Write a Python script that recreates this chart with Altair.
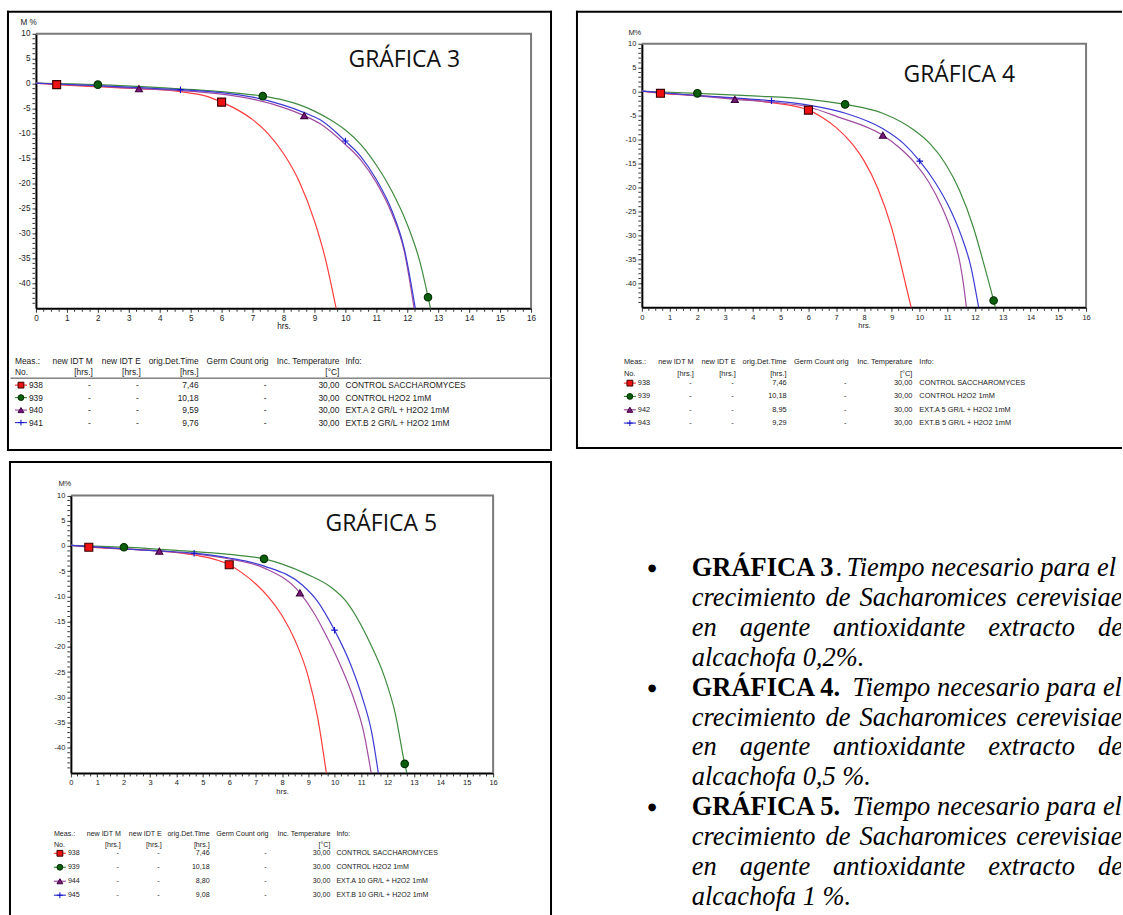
import altair as alt
import pandas as pd

# ------------------------------------------------------------------ data
KINDS = ["ctrl", "h2o2", "extA", "extB"]

# GRAFICA 3
G3_938_X = [0, 0.67, 2, 3.33, 4.67, 5.5, 6, 6.5, 7, 7.5, 8, 8.5, 9, 9.35, 9.7]
G3_938_Y = [0.1, -0.2, -0.6, -1.0, -1.6, -2.5, -3.7, -5.2, -7.2, -10.0, -14.0, -19.5, -27.5, -35.0, -45]
G3_939_X = [0, 2, 4, 6, 7.33, 8, 8.5, 9, 9.5, 10, 10.5, 11, 11.5, 12, 12.4, 12.75]
G3_939_Y = [0.1, -0.2, -0.8, -1.6, -2.5, -3.3, -4.2, -5.5, -7.2, -9.3, -12.2, -16.3, -21.5, -28.2, -35.5, -45]
G3_940_X = [0, 2, 3.33, 4.67, 6, 7, 8, 8.67, 9.2, 10, 10.5, 11, 11.5, 11.9, 12.22]
G3_940_Y = [0.1, -0.5, -1.0, -1.4, -2.1, -3.1, -4.8, -6.4, -8.1, -12.2, -15.3, -19.8, -26.0, -33.5, -45]
G3_941_X = [0, 2, 3.33, 4.67, 6, 7, 8, 8.67, 9.2, 10, 10.5, 11, 11.5, 11.9, 12.26]
G3_941_Y = [0.1, -0.4, -0.8, -1.2, -1.8, -2.7, -4.3, -5.8, -7.3, -11.5, -14.6, -19.2, -25.4, -33.0, -45]
G3_MK_KIND = ["ctrl", "ctrl", "h2o2", "h2o2", "h2o2", "extA", "extA", "extB", "extB"]
G3_MK_X = [0.67, 6.0, 2.0, 7.33, 12.67, 3.33, 8.67, 4.67, 10.0]
G3_MK_Y = [-0.2, -3.7, -0.2, -2.5, -42.8, -1.0, -6.4, -1.2, -11.5]
G3_MEAS = ["938", "939", "940", "941"]
G3_DET = ["7,46", "10,18", "9,59", "9,76"]
G3_INFO = ["CONTROL SACCHAROMYCES", "CONTROL H2O2 1mM",
           "EXT.A 2 GR/L +  H2O2 1mM", "EXT.B 2 GR/L +  H2O2 1mM"]

# GRAFICA 4
G4_938_X = [0, 0.67, 2, 3.33, 4.67, 6, 6.5, 7, 7.5, 8, 8.5, 9, 9.35, 9.7]
G4_938_Y = [0.1, -0.35, -0.8, -1.4, -2.3, -3.85, -5.4, -7.5, -10.4, -14.4, -20.2, -28.5, -36.5, -45]
G4_939_X = [0, 2, 4, 6, 7.32, 8.67, 9.8, 10.37, 10.93, 11.44, 11.94, 12.32, 12.67, 12.73]
G4_939_Y = [0.1, -0.35, -0.9, -1.6, -2.66, -4.5, -8.0, -10.8, -15.0, -20.6, -28.3, -36.0, -43.6, -45]
G4_942_X = [0, 2, 3.35, 4.67, 6, 7.03, 8.68, 9.3, 9.85, 10.35, 10.8, 11.2, 11.45, 11.58, 11.69]
G4_942_Y = [0.1, -0.9, -1.6, -2.2, -3.2, -5.2, -9.1, -11.8, -15.0, -19.0, -24.0, -30.0, -35.5, -40.0, -45]
G4_943_X = [0, 2, 3.33, 4.67, 6, 7.33, 8.67, 9.42, 10.01, 10.55, 11.1, 11.5, 11.85, 12.13]
G4_943_Y = [0.1, -0.8, -1.3, -1.9, -2.8, -4.5, -7.7, -10.8, -14.5, -18.8, -24.5, -30.0, -36.5, -45]
G4_MK_KIND = ["ctrl", "ctrl", "h2o2", "h2o2", "h2o2", "extA", "extA", "extB", "extB"]
G4_MK_X = [0.67, 6.0, 2.0, 7.32, 12.67, 3.35, 8.68, 4.67, 10.01]
G4_MK_Y = [-0.35, -3.85, -0.35, -2.66, -43.6, -1.6, -9.1, -1.9, -14.5]
G4_MEAS = ["938", "939", "942", "943"]
G4_DET = ["7,46", "10,18", "8,95", "9,29"]
G4_INFO = ["CONTROL SACCHAROMYCES", "CONTROL H2O2 1mM",
           "EXT.A 5 GR/L +  H2O2 1mM", "EXT.B 5 GR/L +  H2O2 1mM"]

# GRAFICA 5
G5_938_X = [0, 0.68, 2, 3.35, 4.67, 6, 6.5, 7, 7.5, 8, 8.5, 9, 9.35, 9.68]
G5_938_Y = [0.1, -0.26, -0.6, -1.0, -1.8, -3.75, -5.4, -7.5, -10.2, -13.8, -18.8, -26.0, -34.0, -45]
G5_939_X = [0, 2.01, 4, 6, 7.32, 8.9, 9.86, 10.4, 11.34, 11.88, 12.29, 12.65, 12.73]
G5_939_Y = [0.1, -0.26, -0.9, -1.7, -2.57, -5.5, -8.2, -10.8, -19.3, -25.9, -33.2, -43.2, -45]
G5_944_X = [0, 2, 3.35, 4.67, 6, 7.33, 8.68, 9.2, 9.6, 10.2, 10.7, 11.1, 11.38]
G5_944_Y = [0.1, -0.6, -1.05, -1.6, -2.6, -4.4, -9.3, -13.2, -17.0, -23.5, -30.0, -37.0, -45]
G5_945_X = [0, 2, 3.35, 4.67, 6, 7.33, 8.78, 9.32, 9.99, 10.6, 11.04, 11.4, 11.65]
G5_945_Y = [0.1, -0.6, -1.0, -1.45, -2.4, -4.0, -7.8, -10.8, -16.7, -23.5, -30.0, -37.0, -45]
G5_MK_KIND = ["ctrl", "ctrl", "h2o2", "h2o2", "h2o2", "extA", "extA", "extB", "extB"]
G5_MK_X = [0.68, 6.0, 2.01, 7.32, 12.65, 3.35, 8.68, 4.67, 9.99]
G5_MK_Y = [-0.26, -3.75, -0.26, -2.57, -43.2, -1.05, -9.3, -1.45, -16.7]
G5_MEAS = ["938", "939", "944", "945"]
G5_DET = ["7,46", "10,18", "8,80", "9,08"]
G5_INFO = ["CONTROL SACCHAROMYCES", "CONTROL H2O2 1mM",
           "EXT.A 10 GR/L +  H2O2 1mM", "EXT.B 10 GR/L +  H2O2 1mM"]

TEMPS = ["30,00", "30,00", "30,00", "30,00"]
DASH = ["-", "-", "-", "-"]
HEADER1 = ["Meas.:", "new IDT M", "new IDT E", "orig.Det.Time", "Germ Count orig", "Inc. Temperature", "Info:"]
HEADER2 = ["No.", "[hrs.]", "[hrs.]", "[hrs.]", "", "[°C]", ""]

X_DOMAIN = [0, 16]
Y_DOMAIN = [-45, 10]
X_TICKS = list(range(0, 17))
Y_TICKS = [10, 5, 0, -5, -10, -15, -20, -25, -30, -35, -40]
X_MINOR = [q / 4 for q in range(0, 65) if q % 4]
Y_MINOR = [v for v in range(-44, 10) if v % 5]

CAP_TITLES = ["GRÁFICA 3", "GRÁFICA 4.", "GRÁFICA 5."]
CAP_LEAD = "Tiempo necesario para el"
CAP_L2 = ["crecimiento", "de", "Sacharomices", "cerevisiae"]
CAP_L3 = ["en", "agente", "antioxidante", "extracto", "de"]
CAP_L4 = ["alcachofa 0,2%.", "alcachofa 0,5 %.", "alcachofa 1 %."]

# ------------------------------------------------------------------ styles
SANS = "Liberation Sans"
SERIF = "Liberation Serif"
LINE_COLORS = ["#ff3c3c", "#3f8a3f", "#a04ca0", "#3c3cd2"]
FILL_COLORS = ["#ee1111", "#0b5e0b", "#7a1a7a", "transparent"]
STROKE_COLORS = ["#3a0000", "#033003", "#3d003d", "#1010c8"]
SHAPES = ["square", "circle", "triangle-up", "M-1,0H1M0,-1V1"]
SIZES = [64, 42, 64, 64]

COLOR = alt.Color("kind:N", scale=alt.Scale(domain=KINDS, range=LINE_COLORS), legend=None)
FILL = alt.Fill("kind:N", scale=alt.Scale(domain=KINDS, range=FILL_COLORS), legend=None)
STROKE = alt.Stroke("kind:N", scale=alt.Scale(domain=KINDS, range=STROKE_COLORS), legend=None)
SHAPE = alt.Shape("kind:N", scale=alt.Scale(domain=KINDS, range=SHAPES), legend=None)

ONE = pd.DataFrame({"k": [0]})


def series_df(parts):
    recs = []
    for kind, xs, ys in parts:
        for i, (x, y) in enumerate(zip(xs, ys)):
            recs.append({"kind": kind, "x": x, "y": y, "i": i})
    return pd.DataFrame(recs)


def seg(x1, y1, x2, y2, color="black", w=2):
    if x1 == x2:
        enc = dict(x=alt.value(x1), y=alt.value(y1), y2=alt.value(y2))
    else:
        enc = dict(x=alt.value(x1), x2=alt.value(x2), y=alt.value(y1))
    return alt.Chart(ONE).mark_rule(color=color, strokeWidth=w, strokeCap="square").encode(**enc)


def make_panel(L, parts, mk_kind, mk_x, mk_y, meas, det, info, title, ylab):
    W, H = L["W"], L["H"]
    x0, x1 = L["xr"]
    yb, yt = L["yr"]
    fs = L["afs"]
    xaxis = alt.Axis(values=X_TICKS, orient="bottom", offset=-(H - yb), title="hrs.", grid=False,
                     labelFont=SANS, labelFontSize=fs, labelColor="#222", labelPadding=2,
                     labelFlush=False, labelOverlap=False, labelAngle=0,
                     tickSize=4, tickColor="#333", tickWidth=1,
                     domainColor="#000", domainWidth=2,
                     titleFont=SANS, titleFontSize=fs, titleFontWeight="normal",
                     titleColor="#222", titlePadding=1)
    yaxis = alt.Axis(values=Y_TICKS, orient="left", offset=-x0, title=ylab, grid=False,
                     labelExpr="'' + datum.value",
                     labelFont=SANS, labelFontSize=fs, labelColor="#222", labelPadding=2,
                     labelFlush=False, labelOverlap=False,
                     tickSize=4, tickColor="#333", tickWidth=1,
                     domainColor="#000", domainWidth=2,
                     titleFont=SANS, titleFontSize=fs, titleFontWeight="normal", titleColor="#222",
                     titleAngle=0, titleX=L["mx"], titleY=L["my"], titleAlign="left",
                     titleBaseline="middle")
    X = alt.X("x:Q", scale=alt.Scale(domain=X_DOMAIN, range=[x0, x1], nice=False, zero=False), axis=xaxis)
    Y = alt.Y("y:Q", scale=alt.Scale(domain=Y_DOMAIN, range=[yb, yt], nice=False, zero=False), axis=yaxis)

    border_df = pd.DataFrame({"x": [X_DOMAIN[0], X_DOMAIN[1], X_DOMAIN[1]],
                              "y": [Y_DOMAIN[1], Y_DOMAIN[1], Y_DOMAIN[0]], "i": [0, 1, 2]})
    border = alt.Chart(border_df).mark_line(color="#7a7a7a", strokeWidth=2).encode(x=X, y=Y, order="i:Q")
    mx = alt.Chart(pd.DataFrame({"x": X_MINOR})).mark_rule(color="#333", strokeWidth=1).encode(
        x=X, y=alt.value(yb + 1), y2=alt.value(yb + 3.5))
    my = alt.Chart(pd.DataFrame({"y": Y_MINOR})).mark_rule(color="#333", strokeWidth=1).encode(
        y=Y, x=alt.value(x0 - 3.5), x2=alt.value(x0 - 1))
    lines = alt.Chart(series_df(parts)).mark_line(strokeWidth=1.2, interpolate="monotone").encode(
        x=X, y=Y, color=COLOR, order="i:Q")
    mk = pd.DataFrame({"kind": mk_kind, "x": mk_x, "y": mk_y})
    pts = alt.Chart(mk).mark_point(filled=True, opacity=1, strokeWidth=1.1).encode(
        x=X, y=Y, shape=SHAPE, fill=FILL, stroke=STROKE,
        size=alt.Size("kind:O", scale=alt.Scale(domain=KINDS, range=SIZES), legend=None))
    plot_group = alt.layer(border, mx, my, lines, pts)

    # ---- table below the plot
    tfs = L["tfs"]
    rows = pd.DataFrame({"r": [0, 1, 2, 3], "kind": KINDS, "meas": meas, "idtm": DASH, "idte": DASH,
                         "det": det, "germ": DASH, "temp": TEMPS, "info": info})
    RY = alt.Y("r:Q", scale=alt.Scale(domain=[0, 3], range=list(L["ry"]), nice=False, zero=False), axis=None)
    tbl = []
    hx = [L["meas"]] + L["cols_h"] + [L["info"]]
    ha = ["left", "right", "right", "right", "right", "right", "left"]
    for c in range(7):
        hdf = pd.DataFrame({"t": [HEADER1[c] + "\n" + HEADER2[c]]})
        tbl.append(alt.Chart(hdf).mark_text(font=SANS, fontSize=tfs, color="#222", align=ha[c],
                                            baseline="middle", lineBreak="\n", lineHeight=L["hlh"]).encode(
            x=alt.value(hx[c]), y=alt.value(L["hy"]), text="t:N"))
    rcols = ["idtm", "idte", "det", "germ", "temp"]
    tbl.append(alt.Chart(rows).mark_text(font=SANS, fontSize=tfs, color="#222", align="left",
                                         baseline="middle").encode(
        x=alt.value(L["num"]), y=RY, text="meas:N"))
    for c, name in enumerate(rcols):
        tbl.append(alt.Chart(rows).mark_text(font=SANS, fontSize=tfs, color="#222", align="right",
                                             baseline="middle").encode(
            x=alt.value(L["cols_r"][c]), y=RY, text=f"{name}:N"))
    tbl.append(alt.Chart(rows).mark_text(font=SANS, fontSize=tfs, color="#222", align="left",
                                         baseline="middle").encode(
        x=alt.value(L["info"]), y=RY, text="info:N"))
    s0, s1, sc = L["sym"]
    tbl.append(alt.Chart(rows).mark_rule(strokeWidth=1.2).encode(
        x=alt.value(s0), x2=alt.value(s1), y=RY, color=COLOR))
    tbl.append(alt.Chart(rows).mark_point(filled=True, opacity=1, strokeWidth=1, size=34).encode(
        x=alt.value(sc), y=RY, shape=SHAPE, fill=FILL, stroke=STROKE))
    table_group = alt.layer(*tbl)

    deco = [seg(*f) for f in L["frame"]]
    if L["sep"] is not None:
        a, b, yy = L["sep"]
        deco.append(seg(a, yy, b, yy, color="#444", w=1))
    ttl = alt.Chart(pd.DataFrame({"t": [title]})).mark_text(
        font="Open Sans", fontSize=23, color="#111", align="center", baseline="middle").encode(
        x=alt.value(L["gx"]), y=alt.value(L["gy"]), text="t:N")

    return alt.layer(plot_group, table_group, ttl, *deco).resolve_scale(y="independent").properties(
        width=W, height=H)


P3 = dict(W=546, H=441, xr=(29, 525), yr=(298, 23), afs=8.2, tfs=8.4, mx=-16, my=12, gx=398, gy=49,
          hy=351, hlh=11, ry=(375, 412.5), sym=(8, 20, 14), num=22,
          cols_h=[86, 134, 192, 262, 333], cols_r=[84, 132, 192, 260, 333], info=339, meas=8,
          frame=[(1, 1, 545, 1), (1, 1, 1, 440), (545, 1, 545, 440), (1, 440, 545, 440)],
          sep=(4, 545, 368))
P4 = dict(W=546, H=439, xr=(66, 511), yr=(297, 33), afs=7.5, tfs=7.4, mx=-14, my=22, gx=384, gy=64,
          hy=352, hlh=12, ry=(373, 413), sym=(48, 60, 54), num=62,
          cols_h=[118, 160, 211, 273, 337], cols_r=[116, 158, 211, 271, 337], info=344, meas=48,
          frame=[(1, 1, 546, 1), (1, 1, 1, 438), (1, 438, 546, 438)], sep=None)
P5 = dict(W=546, H=454, xr=(64, 487), yr=(312.5, 34.5), afs=7.5, tfs=7.1, mx=-13, my=23, gx=375, gy=63,
          hy=373.5, hlh=11, ry=(393, 435), sym=(47, 59, 53), num=61,
          cols_h=[114, 155, 203, 262, 324], cols_r=[112, 153, 203, 260, 324], info=330, meas=47,
          frame=[(3, 1, 545, 1), (3, 1, 3, 454), (545, 1, 545, 454)], sep=None)

p3 = make_panel(P3, [("ctrl", G3_938_X, G3_938_Y), ("h2o2", G3_939_X, G3_939_Y),
                     ("extA", G3_940_X, G3_940_Y), ("extB", G3_941_X, G3_941_Y)],
                G3_MK_KIND, G3_MK_X, G3_MK_Y, G3_MEAS, G3_DET, G3_INFO, "GRÁFICA 3", "M %")
p4 = make_panel(P4, [("ctrl", G4_938_X, G4_938_Y), ("h2o2", G4_939_X, G4_939_Y),
                     ("extA", G4_942_X, G4_942_Y), ("extB", G4_943_X, G4_943_Y)],
                G4_MK_KIND, G4_MK_X, G4_MK_Y, G4_MEAS, G4_DET, G4_INFO, "GRÁFICA 4", "M%")
p5 = make_panel(P5, [("ctrl", G5_938_X, G5_938_Y), ("h2o2", G5_939_X, G5_939_Y),
                     ("extA", G5_944_X, G5_944_Y), ("extB", G5_945_X, G5_945_Y)],
                G5_MK_KIND, G5_MK_X, G5_MK_Y, G5_MEAS, G5_DET, G5_INFO, "GRÁFICA 5", "M%")

# ------------------------------------------------------------------ caption
recs = []
for k in range(3):
    base = 4 * k
    recs.append({"line": base, "seg": "bullet", "text": "●"})
    recs.append({"line": base, "seg": "bold", "text": CAP_TITLES[k]})
    if k == 0:
        recs.append({"line": base, "seg": "dot", "text": "."})
        recs.append({"line": base, "seg": "lead0", "text": CAP_LEAD})
    else:
        recs.append({"line": base, "seg": "lead1", "text": CAP_LEAD})
    for w, word in enumerate(CAP_L2):
        recs.append({"line": base + 1, "seg": f"c{w}", "text": word})
    for w, word in enumerate(CAP_L3):
        recs.append({"line": base + 2, "seg": f"w{w}", "text": word})
    recs.append({"line": base + 3, "seg": "full", "text": CAP_L4[k]})
cap_df = pd.DataFrame(recs)

CAP_FS = 26.5
IT = dict(font=SERIF, fontSize=CAP_FS, fontStyle="italic")
CY = alt.Y("line:Q", scale=alt.Scale(domain=[0, 11], range=[116, 446], nice=False, zero=False), axis=None)
seg_style = {
    "bullet": (72, dict(font="DejaVu Sans", fontSize=10, dy=-5)),
    "bold": (116, dict(font=SERIF, fontSize=CAP_FS, fontWeight="bold")),
    "dot": (260, dict(font=SERIF, fontSize=CAP_FS)),
    "lead0": (271, IT),
    "lead1": (277, IT),
    "full": (116, IT),
}
for w, xw in enumerate([116, 250, 284, 441]):
    seg_style[f"c{w}"] = (xw, IT)
for w, xw in enumerate([116, 164, 257.6, 413, 523]):
    seg_style[f"w{w}"] = (xw, IT)

cap_layers = []
for name, (xpos, style) in seg_style.items():
    cap_layers.append(alt.Chart(cap_df).transform_filter(alt.datum.seg == name).mark_text(
        align="left", baseline="alphabetic", color="black", clip=True, **style).encode(
        x=alt.value(xpos), y=CY, text="text:N"))
cap = alt.layer(*cap_layers).properties(width=546, height=454)

chart = alt.hconcat(
    alt.vconcat(p3, p5, spacing=8),
    alt.vconcat(p4, cap, spacing=10),
    spacing=22,
).properties(
    padding={"left": 6, "top": 9, "right": 0, "bottom": 0},
    background="white",
).configure_view(stroke=None)

chart.save("out.html", embed_options={"renderer": "svg", "actions": False})
